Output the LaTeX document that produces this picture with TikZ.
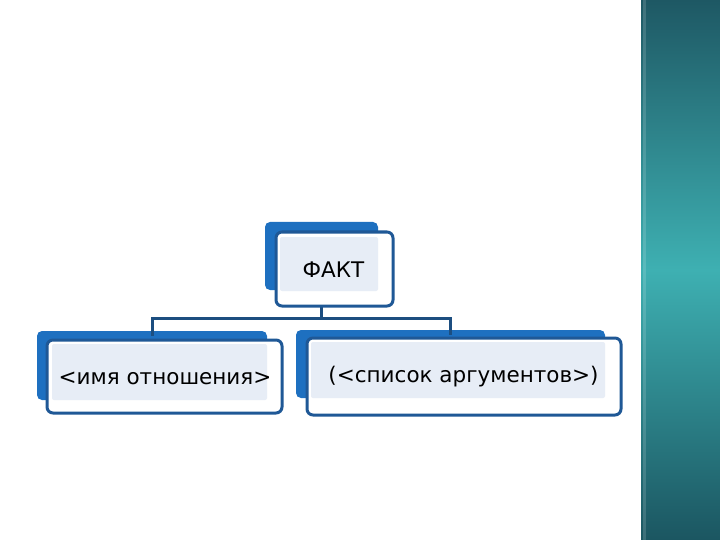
\documentclass[tikz,border=0pt]{standalone}
\usepackage{fontspec}
\setmainfont{DejaVu Sans}
\definecolor{backblue}{RGB}{30,112,192}
\definecolor{outlineblue}{RGB}{31,88,150}
\definecolor{lightfill}{RGB}{231,237,246}
\definecolor{conn}{RGB}{28,78,128}
\definecolor{tealtop}{RGB}{30,88,100}
\definecolor{tealmid}{RGB}{62,176,178}
\definecolor{tealbot}{RGB}{27,86,97}
\tikzset{
  backbox/.style={draw=none, fill=backblue, rounded corners=5pt, inner sep=0pt},
  frontbox/.style={draw=outlineblue, line width=3pt, fill=white, rounded corners=6pt, inner sep=0pt},
  lbl/.style={font=\fontsize{21.5}{25}\selectfont, text=black, inner sep=0pt},
  connector/.style={draw=conn, line width=3pt}
}
\begin{document}
\begin{tikzpicture}[x=1pt,y=-1pt]
\useasboundingbox (0,0) rectangle (720,540);
\fill[white] (0,0) rectangle (720,540);
% right teal bar
\shade[top color=tealtop, bottom color=tealbot, middle color=tealmid] (641,0) rectangle (720,540);
\fill[white, opacity=0.15] (643,0) rectangle (646,540);

% back boxes
\node[backbox, minimum width=113pt, minimum height=68pt] (tb) at (321.5,256) {};
\node[backbox, minimum width=230pt, minimum height=69pt] (lb) at (152,365.5) {};
\node[backbox, minimum width=309pt, minimum height=68pt] (rb) at (450.5,364) {};

% connectors
\draw[connector] (tb.south) -- (tb.south |- 0,318) coordinate (bus);
\draw[connector, line cap=rect] (bus) -| ([yshift=-4pt]lb.north);
\draw[connector, line cap=rect] (bus) -| ([yshift=-4pt]rb.north);

% front boxes
\node[frontbox, minimum width=117pt, minimum height=74pt] (tf) at (334.5,269) {};
\node[frontbox, minimum width=235pt, minimum height=73pt] (lf) at (164.5,376.5) {};
\node[frontbox, minimum width=314pt, minimum height=77pt] (rf) at (464,376.5) {};

% light fills
\fill[lightfill, rounded corners=2pt] (280,237) rectangle (378,291);
\fill[lightfill, rounded corners=2pt] (52,344) rectangle (267,400);
\fill[lightfill, rounded corners=2pt] (311,342) rectangle (605,398);

% labels
\node[lbl] (tt) at (333.5,270) {ФАКТ};
\node[lbl] (lt) at (165,378) {<имя отношения>};
\node[lbl] (rt) at (463.5,377) {(<список аргументов>)};
\end{tikzpicture}
\end{document}
